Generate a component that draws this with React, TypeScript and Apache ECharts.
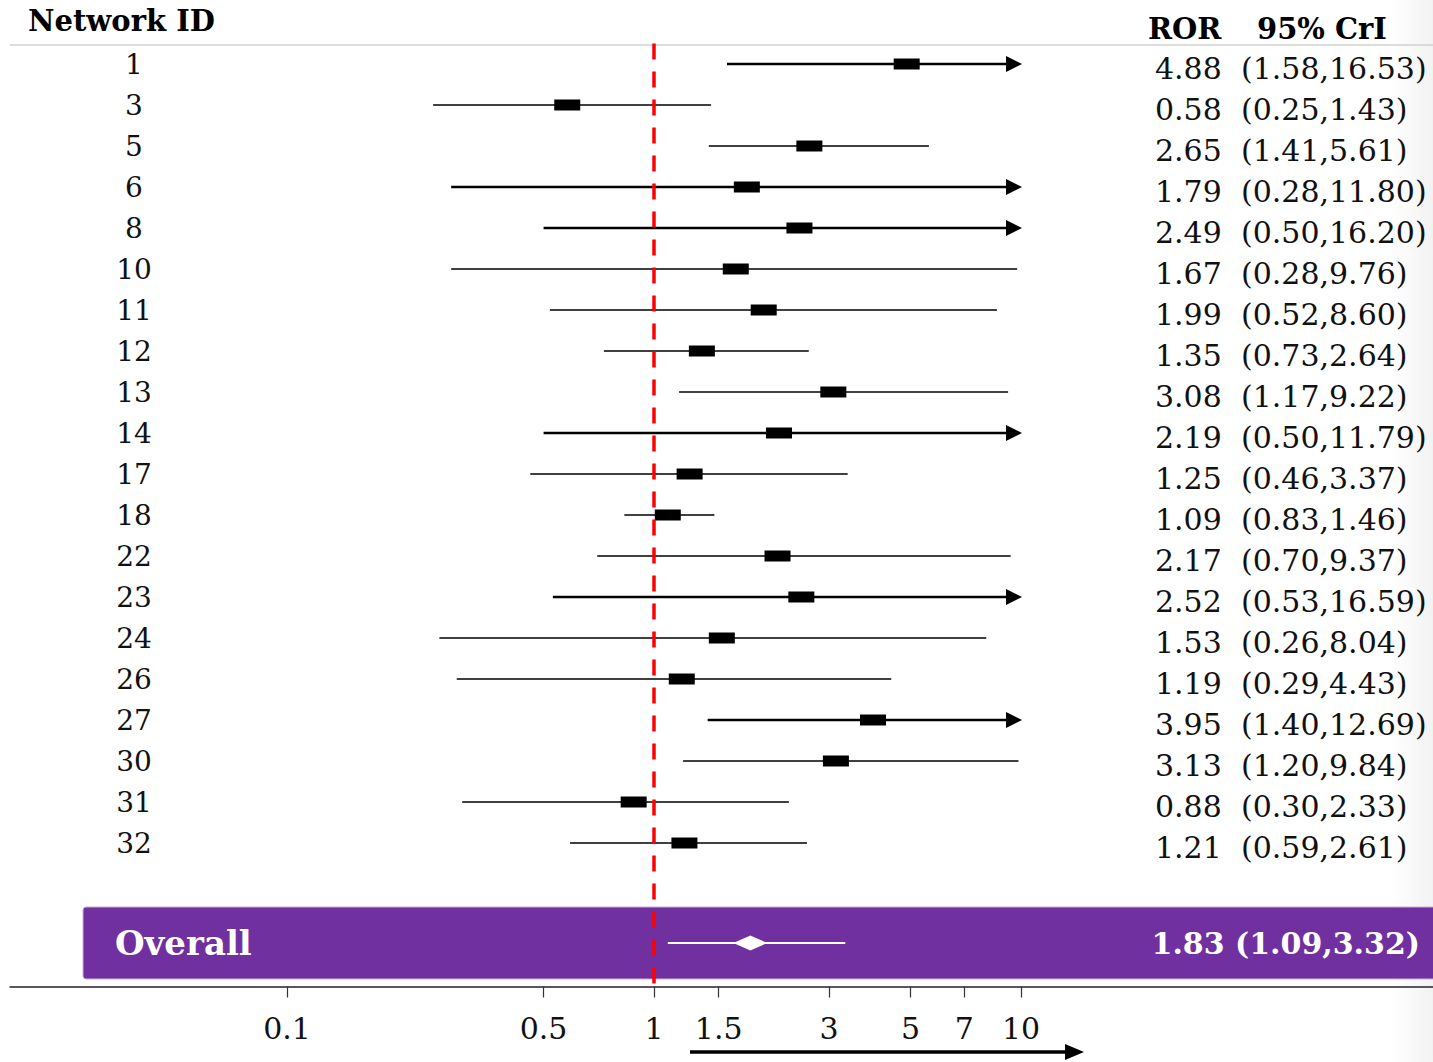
import React, { useEffect, useRef } from "react";
import * as echarts from "echarts";

// Forest plot of reporting odds ratios (ROR) with 95% credible intervals
const networkIds = ["1", "3", "5", "6", "8", "10", "11", "12", "13", "14", "17", "18", "22", "23", "24", "26", "27", "30", "31", "32"];
const rorValues = [4.88, 0.58, 2.65, 1.79, 2.49, 1.67, 1.99, 1.35, 3.08, 2.19, 1.25, 1.09, 2.17, 2.52, 1.53, 1.19, 3.95, 3.13, 0.88, 1.21];
const lowerCrI = [1.58, 0.25, 1.41, 0.28, 0.5, 0.28, 0.52, 0.73, 1.17, 0.5, 0.46, 0.83, 0.7, 0.53, 0.26, 0.29, 1.4, 1.2, 0.3, 0.59];
const upperCrI = [16.53, 1.43, 5.61, 11.8, 16.2, 9.76, 8.6, 2.64, 9.22, 11.79, 3.37, 1.46, 9.37, 16.59, 8.04, 4.43, 12.69, 9.84, 2.33, 2.61];

const overallName = "Overall";
const overallRor = 1.83;
const overallLower = 1.09;
const overallUpper = 3.32;

const tickValues = [0.1, 0.5, 1, 1.5, 3, 5, 7, 10];
const tickLabels = ["0.1", "0.5", "1", "1.5", "3", "5", "7", "10"];
const displayCap = 10;

const FONT = "'DejaVu Serif', 'Liberation Serif', serif";
const lg = (v: number) => Math.log10(v);
const fmt = (v: number) => v.toFixed(2);

// log10 range of the horizontal axis
const X_MIN = -1.755;
const X_MAX = 2.1226;

// spacer rows between the last study and the axis
const spacerRows = [" ", "  ", "   "];
const rowCategories = [...networkIds, ...spacerRows];

export default function App() {
  const ref = useRef<HTMLDivElement>(null);

  useEffect(() => {
    if (!ref.current) return;
    const chart = echarts.init(ref.current, null, { renderer: "svg" });

    const ciData = networkIds.map((_, i) => [
      lg(lowerCrI[i]),
      lg(Math.min(upperCrI[i], displayCap)),
      lg(rorValues[i]),
      i,
      upperCrI[i] > displayCap ? 1 : 0,
    ]);

    const tickLog = tickValues.map(lg);
    const tickFormatter = (v: number) => {
      const i = tickLog.findIndex((t) => Math.abs(t - v) < 1e-6);
      return i >= 0 ? tickLabels[i] : "";
    };

    const headerStyle = {
      fontFamily: FONT,
      fontWeight: "bold",
      fontSize: 29,
      fill: "#000",
      textVerticalAlign: "middle",
    };

    const option: any = {
      animation: false,
      backgroundColor: "#ffffff",
      grid: [
        { left: 10, right: 0, top: 43.5, height: 943, containLabel: false },
        { left: 10, right: 0, top: 907, height: 72, containLabel: false },
      ],
      xAxis: [
        {
          type: "value",
          gridIndex: 0,
          min: X_MIN,
          max: X_MAX,
          position: "bottom",
          splitLine: { show: false },
          axisLine: { show: true, lineStyle: { color: "#222", width: 1.5 } },
          axisTick: {
            show: true,
            customValues: tickLog,
            length: 11,
            lineStyle: { color: "#333", width: 1.2 },
          },
          axisLabel: {
            customValues: tickLog,
            formatter: tickFormatter,
            margin: 27,
            fontFamily: FONT,
            fontSize: 30,
            color: "#111",
          },
        },
        {
          type: "value",
          gridIndex: 1,
          min: X_MIN,
          max: X_MAX,
          show: false,
        },
      ],
      yAxis: [
        {
          type: "category",
          gridIndex: 0,
          data: rowCategories,
          inverse: true,
          position: "left",
          axisLine: { show: false },
          axisTick: { show: false },
          splitLine: { show: false },
          axisLabel: {
            inside: true,
            interval: 0,
            margin: 124,
            align: "center",
            fontFamily: FONT,
            fontSize: 28,
            color: "#111",
            padding: [8, 0, 0, 0],
          },
        },
        {
          type: "category",
          gridIndex: 0,
          data: rowCategories,
          inverse: true,
          position: "right",
          axisLine: { show: false },
          axisTick: { show: false },
          splitLine: { show: false },
          axisLabel: {
            inside: true,
            interval: 0,
            margin: 278,
            align: "left",
            padding: [8, 0, 0, 0],
            formatter: (_: string, idx: number) =>
              idx < networkIds.length
                ? `{v|${fmt(rorValues[idx])}}{c|(${fmt(lowerCrI[idx])},${fmt(upperCrI[idx])})}`
                : "",
            rich: {
              v: { width: 86, fontFamily: FONT, fontSize: 30, color: "#111" },
              c: { fontFamily: FONT, fontSize: 30, color: "#111" },
            },
          },
        },
        {
          type: "category",
          gridIndex: 1,
          data: [overallName],
          position: "left",
          axisLine: { show: false },
          axisTick: { show: false },
          splitLine: { show: false },
          axisLabel: {
            inside: true,
            margin: 105,
            align: "left",
            fontFamily: FONT,
            fontWeight: "bold",
            fontSize: 34,
            color: "#ffffff",
            padding: [14, 0, 0, 0],
          },
        },
        {
          type: "category",
          gridIndex: 1,
          data: [overallName],
          position: "right",
          axisLine: { show: false },
          axisTick: { show: false },
          splitLine: { show: false },
          axisLabel: {
            inside: true,
            margin: 13,
            align: "right",
            formatter: () => `${fmt(overallRor)} (${fmt(overallLower)},${fmt(overallUpper)})`,
            fontFamily: FONT,
            fontWeight: "bold",
            fontSize: 30,
            color: "#ffffff",
            padding: [6, 0, 0, 0],
          },
        },
      ],
      graphic: [
        {
          type: "rect",
          z: -10,
          shape: { x: 83, y: 907, width: 1360, height: 72, r: 3 },
          style: { fill: "#7030A0", stroke: "#c7b0db", lineWidth: 1 },
        },
        {
          type: "rect",
          z: -20,
          shape: { x: 1390, y: 0, width: 43, height: 1062 },
          style: {
            fill: new echarts.graphic.LinearGradient(0, 0, 1, 0, [
              { offset: 0, color: "rgba(0,0,0,0)" },
              { offset: 1, color: "rgba(0,0,0,0.05)" },
            ]),
          },
        },
        {
          type: "line",
          shape: { x1: 10, y1: 45, x2: 1433, y2: 45 },
          style: { stroke: "#d0d0d0", lineWidth: 1.5 },
        },
        {
          type: "text",
          x: 28,
          y: 21,
          style: { ...headerStyle, text: "Network ID" },
        },
        {
          type: "text",
          x: 1148,
          y: 29,
          style: { ...headerStyle, text: "ROR" },
        },
        {
          type: "text",
          x: 1257,
          y: 29,
          style: { ...headerStyle, text: "95% CrI" },
        },
        {
          type: "polyline",
          shape: { points: [[690, 1052], [1068, 1052]] },
          style: { stroke: "#000", lineWidth: 3.5 },
        },
        {
          type: "polygon",
          shape: { points: [[1084, 1052], [1065, 1044], [1065, 1060]] },
          style: { fill: "#000" },
        },
      ],
      series: [
        {
          type: "custom",
          name: "ROR",
          xAxisIndex: 0,
          yAxisIndex: 0,
          z: 3,
          data: ciData,
          encode: { x: [0, 1, 2], y: 3 },
          renderItem: (_params: any, api: any) => {
            const row = api.value(3);
            const p0 = api.coord([api.value(0), row]);
            const p1 = api.coord([api.value(1), row]);
            const pm = api.coord([api.value(2), row]);
            const clipped = api.value(4) === 1;
            const children: any[] = [
              {
                type: "line",
                shape: { x1: p0[0], y1: p0[1], x2: clipped ? p1[0] - 12 : p1[0], y2: p1[1] },
                style: { stroke: "#000", lineWidth: clipped ? 2.5 : 1.5 },
              },
            ];
            if (clipped) {
              children.push({
                type: "polygon",
                shape: { points: [[p1[0] + 1, p1[1]], [p1[0] - 15, p1[1] - 8], [p1[0] - 15, p1[1] + 8]] },
                style: { fill: "#000" },
              });
            }
            children.push({
              type: "rect",
              shape: { x: pm[0] - 13, y: pm[1] - 5.5, width: 26, height: 11 },
              style: { fill: "#000" },
            });
            return { type: "group", children };
          },
        },
        {
          type: "custom",
          name: overallName,
          xAxisIndex: 1,
          yAxisIndex: 2,
          z: 3,
          data: [[lg(overallLower), lg(overallUpper), lg(overallRor), 0]],
          encode: { x: [0, 1, 2], y: 3 },
          renderItem: (_params: any, api: any) => {
            const row = api.value(3);
            const p0 = api.coord([api.value(0), row]);
            const p1 = api.coord([api.value(1), row]);
            const pm = api.coord([api.value(2), row]);
            return {
              type: "group",
              children: [
                {
                  type: "line",
                  shape: { x1: p0[0], y1: p0[1], x2: p1[0], y2: p1[1] },
                  style: { stroke: "#ffffff", lineWidth: 2 },
                },
                {
                  type: "polygon",
                  shape: {
                    points: [
                      [pm[0] - 17, pm[1]],
                      [pm[0], pm[1] - 7.5],
                      [pm[0] + 17, pm[1]],
                      [pm[0], pm[1] + 7.5],
                    ],
                  },
                  style: { fill: "#ffffff" },
                },
              ],
            };
          },
        },
        {
          type: "scatter",
          name: "null effect",
          xAxisIndex: 0,
          yAxisIndex: 0,
          z: 6,
          data: [],
          silent: true,
          markLine: {
            silent: true,
            symbol: ["none", "none"],
            label: { show: false },
            lineStyle: { color: "#ff0000", width: 3.5, type: [16, 12] },
            data: [{ xAxis: lg(1) }],
          },
        },
      ],
    };

    chart.setOption(option);
    return () => chart.dispose();
  }, []);

  return (
    <div
      ref={ref}
      style={{ position: "fixed", left: 0, top: 0, width: 1433, height: 1062, background: "#fff" }}
    />
  );
}
